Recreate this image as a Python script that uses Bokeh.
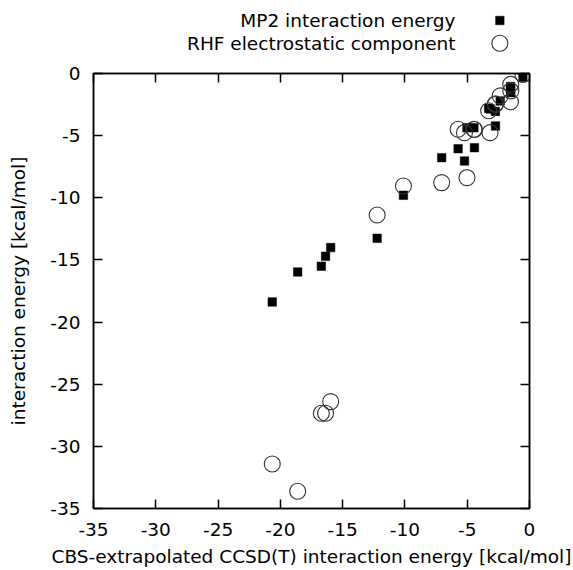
from bokeh.plotting import figure
from bokeh.layouts import column
from bokeh.models import (Range1d, LinearAxis, FixedTicker, CustomJSTickFormatter,
                          ColumnDataSource)
from bokeh.core.properties import value
from bokeh.embed import file_html
from bokeh.resources import INLINE

# CBS-extrapolated CCSD(T) interaction energies (x) [kcal/mol]
ccsdt = [-3.17, -5.02, -18.61, -15.96, -20.65, -16.71, -16.37, -0.53, -1.51, -1.50, -2.73,
         -4.42, -10.12, -5.22, -12.23, -1.53, -3.28, -2.35, -4.46, -2.74, -5.73, -7.05]
# MP2 interaction energy (y)
mp2 = [-2.85, -4.36, -15.97, -14.01, -18.38, -15.51, -14.71, -0.30, -1.05, -1.55, -4.22,
       -5.97, -9.80, -7.04, -13.26, -1.30, -2.80, -2.21, -4.36, -3.05, -6.05, -6.77]
# RHF electrostatic component (y)
rhf_es = [-4.76, -8.38, -33.61, -26.40, -31.42, -27.34, -27.34, -0.07, -0.87, -1.40, -2.43,
          -4.50, -9.05, -4.76, -11.38, -2.27, -3.00, -1.80, -4.49, -2.50, -4.49, -8.78]

ticks = [-35, -30, -25, -20, -15, -10, -5, 0]
tick_labels = ["-35", "-30", "-25", "-20", "-15", "-10", "-5", "0"]
series_names = ["MP2 interaction energy", "RHF electrostatic component"]
x_title = "CBS-extrapolated CCSD(T) interaction energy [kcal/mol]"
y_title = "interaction energy [kcal/mol]"

FONT = "DejaVu Sans"
FS = "18.5px"
W = 573
KEY_H = 60
BL, BR = 93, 44

x_range = Range1d(-35, 0)

# ---------------- key (gnuplot style: text left, sample right) ----------------
# shares the x scale of the plot so it lines up with the frame
key = figure(width=W, height=KEY_H, output_backend="svg", toolbar_location=None,
             x_range=x_range, y_range=Range1d(KEY_H, 0),
             x_axis_location=None, y_axis_location=None,
             min_border_left=BL, min_border_right=BR, min_border_top=0, min_border_bottom=0,
             outline_line_color=None,
             background_fill_color="white", border_fill_color="white")
key.grid.visible = False
key_text_x = -5.94     # right end of the key texts
key_mark_x = -2.38     # centre of the key samples
key.text(x=[key_text_x, key_text_x], y=[20, 43], text=series_names,
         text_align="right", text_baseline="middle",
         text_font=value(FONT), text_font_size=FS, text_color="black")
key.scatter(x=[key_mark_x], y=[20], marker="square", size=8.5,
            fill_color="black", line_color="black", line_width=0.5)
key.scatter(x=[key_mark_x], y=[42.7], marker="circle", size=16,
            fill_color=None, line_color="#333333", line_width=1.1)

# ---------------- main plot ----------------
p = figure(width=W, height=570 - KEY_H, output_backend="svg", toolbar_location=None,
           x_range=x_range, y_range=Range1d(-35, 0),
           min_border_left=BL, min_border_right=BR, min_border_top=13, min_border_bottom=62,
           background_fill_color="white", border_fill_color="white")
p.grid.visible = False
p.outline_line_color = "black"
p.outline_line_width = 1.5

src = ColumnDataSource(dict(x=ccsdt, mp2=mp2, rhf=rhf_es))
p.scatter("x", "mp2", source=src, marker="square", size=8.5,
          fill_color="black", line_color="black", line_width=0.5)
p.scatter("x", "rhf", source=src, marker="circle", size=16,
          fill_color=None, line_color="#333333", line_width=1.1)

def style_axis(ax, labels=True):
    ax.ticker = FixedTicker(ticks=ticks)
    ax.axis_line_color = "black"
    ax.axis_line_width = 1.5
    ax.major_tick_line_color = "black"
    ax.major_tick_line_width = 1.5
    ax.major_tick_in = 9
    ax.major_tick_out = 0
    ax.minor_tick_line_color = None
    ax.major_label_text_font = FONT
    ax.major_label_text_color = "black"
    ax.axis_label_text_font = FONT
    ax.axis_label_text_font_size = FS
    ax.axis_label_text_font_style = "normal"
    ax.axis_label_text_color = "black"
    if labels:
        ax.major_label_text_font_size = FS
        ax.major_label_overrides = {t: s for t, s in zip(ticks, tick_labels)}
    else:
        ax.formatter = CustomJSTickFormatter(code="return ''")
        ax.major_label_text_font_size = "0px"
        ax.major_label_standoff = 0

xa = p.xaxis[0]
ya = p.yaxis[0]
style_axis(xa)
style_axis(ya)
xa.major_label_standoff = 14
ya.major_label_standoff = 13
xa.axis_label = x_title
ya.axis_label = y_title
xa.axis_label_standoff = 7
ya.axis_label_standoff = 18

top = LinearAxis()
right = LinearAxis()
style_axis(top, labels=False)
style_axis(right, labels=False)
p.add_layout(top, "above")
p.add_layout(right, "right")

layout = column(key, p, spacing=0)
open("out.html", "w").write(file_html(layout, INLINE))
